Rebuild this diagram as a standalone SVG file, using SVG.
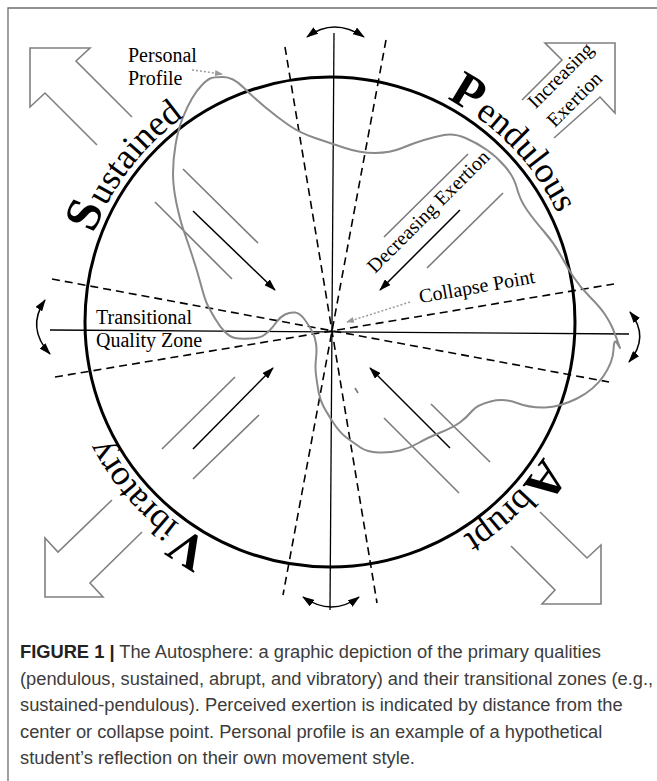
<svg xmlns="http://www.w3.org/2000/svg" width="657" height="781" viewBox="0 0 657 781">
<style>
.serif{font-family:"Liberation Serif","Times New Roman",serif;fill:#000}
.lbl{font-size:20px}
.big{font-size:36px}
.ini{font-size:50px;font-weight:bold}
.axis{stroke:#000;stroke-width:1.3;fill:none}
.dash{stroke:#000;stroke-width:1.6;stroke-dasharray:8 5;fill:none}
.gray{stroke:#7a7a7a;stroke-width:1.6;fill:none}
.blk{stroke:#000;stroke-width:1.5;fill:none;marker-end:url(#ah)}
.curv{stroke:#000;stroke-width:1.5;fill:none;marker-start:url(#ah);marker-end:url(#ah)}
.dot{stroke:#9a9a9a;stroke-width:1.5;stroke-dasharray:2 2;fill:none;marker-end:url(#ahg)}
.block{stroke:#808080;stroke-width:1.6;fill:none;stroke-linejoin:miter}
.cap{font-family:"Liberation Sans",Arial,sans-serif;font-size:18.3px;fill:#3c3c3c}
</style>
<defs>
<marker id="ah" viewBox="0 0 12 8" refX="11" refY="4" markerWidth="12" markerHeight="8" markerUnits="userSpaceOnUse" orient="auto-start-reverse"><path d="M0,0 L12,4 L0,8 z" fill="#000"/></marker>
<marker id="ahg" viewBox="0 0 8 6" refX="7" refY="3" markerWidth="8" markerHeight="6" markerUnits="userSpaceOnUse" orient="auto"><path d="M0,0 L8,3 L0,6 z" fill="#9a9a9a"/></marker>
<path id="ring" d="M78,322 A252,252 0 1 1 582,322 A252,252 0 1 1 78,322"/>
</defs>
<rect width="657" height="781" fill="#fff"/>
<!-- frame -->
<path d="M8,781 L8,8 L657,8" stroke="#6d6d6d" stroke-width="1.3" fill="none"/>

<g id="connectors">
  <!-- axes -->
  <line class="axis" x1="334" y1="33" x2="330" y2="610"/>
  <line class="axis" x1="50" y1="330" x2="629" y2="334"/>
  <line class="dash" x1="285" y1="47" x2="377" y2="603"/>
  <line class="dash" x1="386" y1="40" x2="283" y2="595"/>
  <line class="dash" x1="52" y1="279" x2="609" y2="382"/>
  <line class="dash" x1="55" y1="377" x2="614" y2="284"/>
  <!-- curved double arrows -->
  <path class="curv" d="M307,37 Q334,17 364,37"/>
  <path class="curv" d="M45,300 Q26,328 50,354"/>
  <path class="curv" d="M630,312 Q650,337 629,362"/>
  <path class="curv" d="M303,597 Q332,617 359,597"/>
  <!-- quadrant lines -->
  <line class="gray" x1="183" y1="169" x2="258" y2="243"/>
  <line class="gray" x1="155" y1="202" x2="232" y2="279"/>
  <line class="blk" x1="193" y1="211" x2="275" y2="290"/>
  <line class="gray" x1="468" y1="154" x2="384" y2="237"/>
  <line class="gray" x1="503" y1="193" x2="427" y2="268"/>
  <line class="blk" x1="460" y1="210" x2="380" y2="290"/>
  <line class="gray" x1="235" y1="377" x2="162" y2="449"/>
  <line class="gray" x1="259" y1="415" x2="193" y2="479"/>
  <line class="blk" x1="193" y1="449" x2="273" y2="368"/>
  <line class="gray" x1="431" y1="404" x2="490" y2="462"/>
  <line class="gray" x1="384" y1="418" x2="459" y2="493"/>
  <line class="blk" x1="450" y1="448" x2="370" y2="368"/>
  <line class="gray" x1="355" y1="388" x2="358" y2="393"/>
  <!-- pointers -->
  <line class="dot" x1="192" y1="70" x2="222" y2="74"/>
  <line class="dot" x1="410" y1="302" x2="347" y2="322"/>
</g>

<g id="circle">
  <circle cx="330" cy="322" r="245" fill="none" stroke="#000" stroke-width="3"/>
</g>

<g id="block-arrows">
  <polyline id="arrow-tl" class="block" points="132,117 76,61 90,48 30,48 30,107 45,93 97,145"/>
  <polyline id="arrow-tr" class="block" points="522,100 562,60 545,43 615,43 615,113 600,97 554,138"/>
  <polyline id="arrow-bl" class="block" points="112,500 58,552 45,538 45,597 103,597 90,583 142,532"/>
  <polyline id="arrow-br" class="block" points="540,512 587,558 601,545 601,604 542,604 555,590 511,546"/>
</g>

<g id="profile">
  <path fill="none" stroke="#8a8a8a" stroke-width="2" stroke-linejoin="round" d="M210,78.5 Q213,77 223,77 Q233,77 243,87 Q253,97 265,107 Q277,117 288.5,125 Q300,133 315,138 Q330,143 345,148 Q360,153 375,153 Q390,153 402,148 Q414,143 424,140 Q434,137 444,135 Q454,133 465.5,138 Q477,143 487,150 Q497,157 505.5,167 Q514,177 517,188.5 Q520,200 527,210 Q534,220 544,231.5 Q554,243 560.5,255 Q567,267 573.5,277 Q580,287 590,297 Q600,307 605,314.5 Q610,322 612.5,328 Q615,334 617.5,341 L620,348 L617,343 Q614,338 613.5,350 Q613,362 603.5,376 Q594,390 577,398.5 Q560,407 545,407.5 Q530,408 517,403 Q504,398 490.5,401.5 Q477,405 472,411 Q467,417 460.5,422 Q454,427 440.5,432.5 Q427,438 418.5,443 Q410,448 400,450.5 Q390,453 378.5,452.5 Q367,452 360.5,447.5 Q354,443 347,438 Q340,433 333.5,423 Q327,413 323.5,406.5 Q320,400 318.5,391.5 Q317,383 316,375 Q315,367 316,358.5 Q317,350 316,343.5 Q315,337 312.5,332 Q310,327 305,320 Q300,313 295,312.5 Q290,312 285,314.5 Q280,317 276.5,322 Q273,327 270,330 Q267,333 263.5,335.5 Q260,338 250,338.5 Q240,339 235,338 Q230,337 225,332 Q220,327 215,318.5 Q210,310 207.5,305 Q205,300 201,285 Q197,270 192,255 Q187,240 183.5,230 Q180,220 176.5,203.5 Q173,187 173,173.5 Q173,160 175.5,145 Q178,130 182.5,118.5 Q187,107 192,98.5 Q197,90 202,85 Q207,80 210,78.5 Z"/>
</g>

<g id="quality-labels" class="serif">
  <text id="sustained"><textPath href="#ring" startOffset="90"><tspan class="ini">S</tspan><tspan class="big" dx="2">ustained</tspan></textPath></text>
  <text id="pendulous"><textPath href="#ring" startOffset="517"><tspan class="ini">P</tspan><tspan class="big" dx="2">endulous</tspan></textPath></text>
  <text id="abrupt"><textPath href="#ring" startOffset="933"><tspan class="ini">A</tspan><tspan class="big" dx="2">brupt</tspan></textPath></text>
  <text id="vibratory"><textPath href="#ring" startOffset="1310"><tspan class="ini">V</tspan><tspan class="big" dx="2">ibratory</tspan></textPath></text>
</g>

<g id="annotations" class="serif lbl">
  <text x="128" y="62">Personal</text>
  <text x="128" y="85">Profile</text>
  <text x="96" y="324">Transitional</text>
  <text x="96" y="347">Quality Zone</text>
  <text transform="translate(478,293) rotate(-10)" text-anchor="middle">Collapse Point</text>
  <text transform="translate(433,216) rotate(-45)" text-anchor="middle">Decreasing Exertion</text>
  <text transform="translate(565,80) rotate(-45)" text-anchor="middle">Increasing</text>
  <text transform="translate(579,104) rotate(-45)" text-anchor="middle">Exertion</text>
</g>

<g id="caption" class="cap">
  <text x="20" y="658"><tspan font-weight="bold" fill="#222">FIGURE 1 |</tspan> The Autosphere: a graphic depiction of the primary qualities</text>
  <text x="20" y="684.5">(pendulous, sustained, abrupt, and vibratory) and their transitional zones (e.g.,</text>
  <text x="20" y="711">sustained-pendulous). Perceived exertion is indicated by distance from the</text>
  <text x="20" y="737.5">center or collapse point. Personal profile is an example of a hypothetical</text>
  <text x="20" y="764">student’s reflection on their own movement style.</text>
</g>
</svg>
